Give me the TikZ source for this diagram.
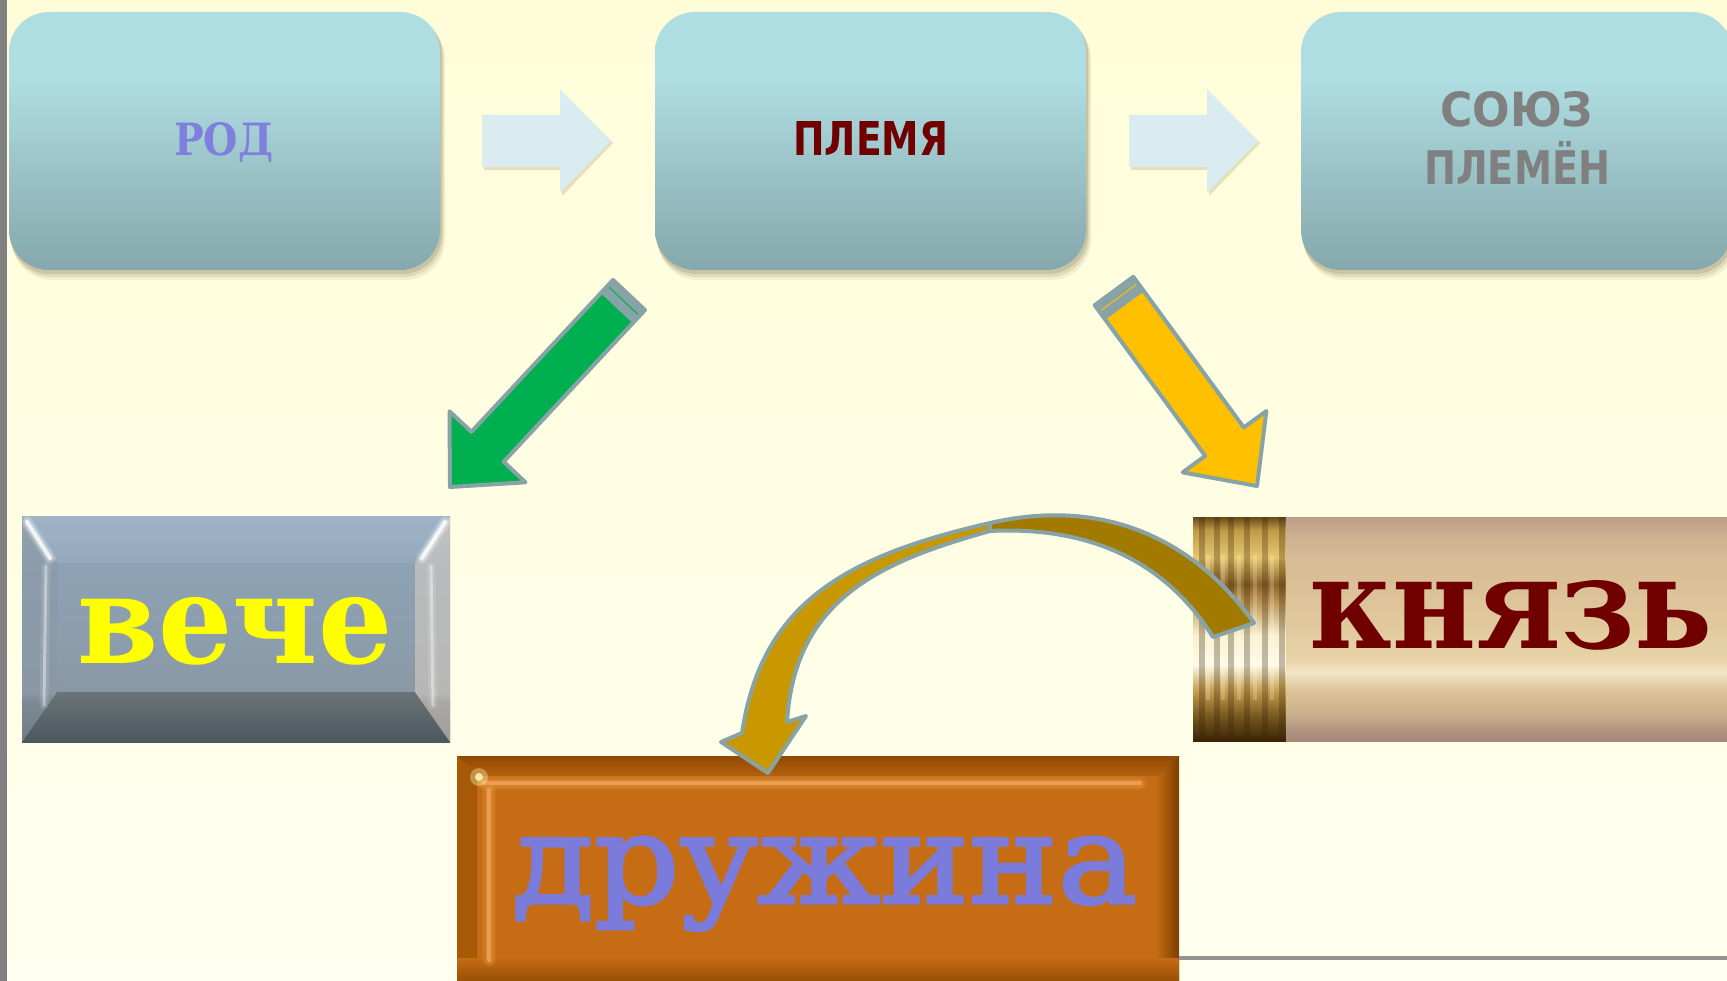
\documentclass[tikz,border=0pt]{standalone}
\usepackage{fontspec}
\setmainfont{DejaVu Serif}
\newfontfamily\sansf{DejaVu Sans}
\newfontfamily\semiserif{DejaVu Serif}[FakeBold=2.5]
\usepackage{graphicx}
\definecolor{bgtop}{HTML}{FFFDD8}
\definecolor{bgbot}{HTML}{FFFFEF}
\definecolor{boxtop}{HTML}{AEDDE2}
\definecolor{boxmid}{HTML}{9CC4C8}
\definecolor{boxbot}{HTML}{85A8AC}
\definecolor{outl}{HTML}{88A3A6}
\definecolor{lightarrow}{HTML}{DAECEF}
\definecolor{shadowc}{HTML}{7A6E48}
\definecolor{rodc}{HTML}{7F7FDF}
\definecolor{darkred}{HTML}{700000}
\definecolor{grayt}{HTML}{808080}
\definecolor{greenf}{HTML}{00B050}
\definecolor{yellowf}{HTML}{FFC000}
\definecolor{curvedark}{HTML}{A27A00}
\definecolor{curvelight}{HTML}{C99700}
\definecolor{vechet}{HTML}{FFFF00}
\definecolor{druzht}{HTML}{7B7BDB}
% cylinder colours
\definecolor{cyA}{HTML}{A48878}\definecolor{cyB}{HTML}{B09580}\definecolor{cyC}{HTML}{C9AE8C}
\definecolor{cyD}{HTML}{DCC498}\definecolor{cyE}{HTML}{F2E6C8}\definecolor{cyF}{HTML}{E8D4A8}
\definecolor{cyG}{HTML}{E0C79C}\definecolor{cyH}{HTML}{D8BC94}\definecolor{cyI}{HTML}{CDB090}
\definecolor{cyJ}{HTML}{BC9C86}
% gold strip
\definecolor{goA}{HTML}{3A2408}\definecolor{goB}{HTML}{7A5A20}\definecolor{goC}{HTML}{C8A050}
\definecolor{goD}{HTML}{FFFAE8}\definecolor{goE}{HTML}{F8F0D0}\definecolor{goF}{HTML}{B89050}
\definecolor{goG}{HTML}{8A6428}\definecolor{goH}{HTML}{E6C870}\definecolor{goI}{HTML}{C09A48}
\definecolor{goJ}{HTML}{6A4A18}
% veche
\definecolor{veA}{HTML}{4C585E}\definecolor{veB}{HTML}{6A7478}\definecolor{veC}{HTML}{8A98A4}
\definecolor{veD}{HTML}{8C9DAC}\definecolor{veE}{HTML}{8EA2B4}\definecolor{veF}{HTML}{A0B4C8}
% druzhina
\definecolor{drBase}{HTML}{C56C14}\definecolor{drTop}{HTML}{904A02}\definecolor{drTop2}{HTML}{B4600E}
\definecolor{drHi}{HTML}{F2A658}\definecolor{drEdge}{HTML}{A65A08}\definecolor{drDark}{HTML}{7A3E00}

\pgfdeclareverticalshading{bgshade}{100bp}{color(0bp)=(bgbot); color(25bp)=(bgbot); color(75bp)=(bgtop); color(100bp)=(bgtop)}
\pgfdeclareverticalshading{boxshade}{100bp}{color(0bp)=(boxbot); color(25bp)=(boxbot); color(45bp)=(boxmid); color(62bp)=(boxtop); color(100bp)=(boxtop)}
\pgfdeclareverticalshading{cylshade}{100bp}{color(0bp)=(cyA); color(25bp)=(cyA); color(27.5bp)=(cyB); color(30.8bp)=(cyC); color(36.4bp)=(cyD); color(40.2bp)=(cyE); color(43.1bp)=(cyF); color(52bp)=(cyG); color(65.4bp)=(cyH); color(71bp)=(cyI); color(75bp)=(cyJ); color(100bp)=(cyJ)}
\pgfdeclareverticalshading{goldshade}{100bp}{color(0bp)=(goA); color(25bp)=(goA); color(30.8bp)=(goB); color(36.4bp)=(goC); color(42bp)=(goD); color(48.7bp)=(goE); color(56.5bp)=(goF); color(60bp)=(goG); color(66bp)=(goH); color(72.1bp)=(goI); color(75bp)=(goJ); color(100bp)=(goJ)}
\pgfdeclareverticalshading{veshade}{100bp}{color(0bp)=(veA); color(25bp)=(veA); color(34.1bp)=(veB); color(35.8bp)=(veC); color(47.6bp)=(veD); color(64.6bp)=(veE); color(75bp)=(veF); color(100bp)=(veF)}
\pgfdeclareverticalshading{vebottom}{100bp}{color(0bp)=(veA); color(25bp)=(veA); color(75bp)=(veB); color(100bp)=(veB)}
\pgfdeclareverticalshading{drtopshade}{100bp}{color(0bp)=(drTop2); color(25bp)=(drTop2); color(75bp)=(drTop); color(100bp)=(drTop)}
\pgfdeclareverticalshading{drbotshade}{100bp}{color(0bp)=(drTop); color(25bp)=(drTop); color(75bp)=(drBase); color(100bp)=(drBase)}
\pgfdeclarehorizontalshading{drrightshade}{100bp}{color(0bp)=(drBase); color(25bp)=(drBase); color(75bp)=(drDark); color(100bp)=(drDark)}

\tikzset{
  rbox/.style={shade, shading=boxshade, rounded corners=40pt, minimum width=431pt, minimum height=258pt, inner sep=0pt},
  boxshadow/.style={fill=shadowc, rounded corners=40pt},
  blockarrow/.style={fill=lightarrow},
  arrshadow/.style={fill=shadowc, opacity=0.2},
  fatarrow/.style={draw=outl, line width=4pt, line join=round},
  label/.style={inner sep=0pt, anchor=base west},
  glow/.style={line cap=round},
}

\begin{document}
\begin{tikzpicture}[x=1pt,y=-1pt]
\useasboundingbox (0,0) rectangle (1727,981);
\clip (0,0) rectangle (1727,981);
\shade[shading=bgshade] (0,0) rectangle (1727,981);
\fill[grayt] (0,0) rectangle (7,981);

% shadows of the rounded boxes
\foreach \cx in {224.5,870.5,1516.5}{
  \fill[boxshadow, opacity=0.1] (\cx-212.5,19) rectangle (\cx+220.5,280);
  \fill[boxshadow, opacity=0.15] (\cx-213.5,17) rectangle (\cx+219,277);
  \fill[boxshadow, opacity=0.22] (\cx-214.5,14) rectangle (\cx+217.5,274);
}
\node[rbox] (rod) at (224.5,141) {};
\node[rbox] (plemya) at (870.5,141) {};
\node[rbox] (soyuz) at (1516.5,141) {};

\node[label, text=rodc] (rodt) at (174,156) {\resizebox{99pt}{33pt}{\bfseries РОД}};
\node[label, text=darkred] (plemyat) at (793,156) {\resizebox{155pt}{34pt}{\sansf\bfseries ПЛЕМЯ}};
\node[label, text=grayt] (soyuzt1) at (1440,127) {\resizebox{153pt}{35pt}{\sansf\bfseries СОЮЗ}};
\node[label, text=grayt] (soyuzt2) at (1424,185) {\resizebox{186pt}{43pt}{\sansf\bfseries ПЛЕМЁН}};

% block arrows between the top boxes
\foreach \dx in {0,647}{
  \begin{scope}[xshift=\dx pt]
  \fill[arrshadow] (484,118) -- (562,118) -- (562,92) -- (613,143) -- (562,196) -- (562,170) -- (484,170) -- cycle;
  \fill[blockarrow] (482,115) -- (560,115) -- (560,89) -- (611,141) -- (560,193) -- (560,167) -- (482,167) -- cycle;
  \end{scope}
}

% veche button
\shade[shading=veshade] (22,516) rectangle (450,742);
\shade[shading=vebottom] (22,742) -- (450,742) -- (415,692) -- (57,692) -- cycle;
\fill[veC, opacity=0.6] (22,516) -- (57,563) -- (57,692) -- (22,742) -- cycle;
\fill[gray!60!brown!40!white, opacity=0.6] (450,516) -- (415,563) -- (415,692) -- (450,742) -- cycle;
\fill[veF, opacity=0.45] (22,516) -- (450,516) -- (415,563) -- (57,563) -- cycle;
\foreach \w/\o in {12/0.15, 8/0.3, 4/0.8}{
  \draw[white, line width=\w pt, opacity=\o, glow] (27,522) -- (50,558);
  \draw[white, line width=\w pt, opacity=\o, glow] (445,522) -- (422,558);
}
\foreach \w/\o in {9/0.12, 3/0.4}{
  \draw[white, line width=\w pt, opacity=\o, glow] (46,566) -- (44,705);
  \draw[white, line width=\w pt, opacity=\o, glow] (431,566) -- (433,705);
}
\node[label, text=vechet] (veche) at (77,663) {\resizebox{315pt}{66pt}{\bfseries вече}};

% knyaz banner
\shade[shading=goldshade] (1193,517) rectangle (1286,741);
\foreach \sx in {1199,1214,1228,1244,1262,1279}{
  \fill[goA, opacity=0.3] (\sx,517) rectangle (\sx+6,741);
}
\foreach \sx in {1206,1221,1237,1253,1270}{
  \fill[white, opacity=0.22] (\sx,555) rectangle (\sx+4,700);
}
\shade[shading=cylshade] (1286,517) rectangle (1727,741);
\node[label, text=darkred] (knyaz) at (1309,648) {\resizebox{403pt}{68pt}{\bfseries князь}};

% druzhina button
\fill[drBase] (457,756) rectangle (1179,985);
\fill[drEdge] (457,756) -- (477,776) -- (477,985) -- (457,985) -- cycle;
\shade[shading=drrightshade] (1156,756) rectangle (1179,985);
\shade[shading=drtopshade] (457,756) -- (1179,756) -- (1158,776) -- (477,776) -- cycle;
\shade[shading=drbotshade] (457,958) rectangle (1179,985);
\foreach \w/\o in {14/0.15, 9/0.25, 4/0.8}{
  \draw[drHi, line width=\w pt, opacity=\o, glow] (484,783) -- (1140,783);
  \draw[drHi, line width=\w pt, opacity=\o, glow] (489,790) -- (489,960);
}
\fill[yellow!25!white, opacity=0.35] (479,777) circle (9pt);
\fill[yellow!25!white, opacity=0.8] (479,777) circle (4pt);
\node[label, text=druzht] (druzh) at (512,903) {\resizebox{624pt}{66pt}{\semiserif дружина}};

% bottom right rule
\draw[gray!85, line width=4pt] (1179,958) -- (1727,958);

% green arrow
\fill[greenf] (613,280) -- (645,310) -- (503.6,461.8) -- (525.5,482.3) -- (450,487) -- (449.5,411.3) -- (471.4,431.8) -- cycle;
\fill[outl] (613,280) -- (645,310) -- (632.7,323.2) -- (600.7,293.2) -- cycle;
\draw[greenf, line width=1pt] (607.5,285.8) -- (639.5,315.8);
\draw[fatarrow] (613,280) -- (645,310) -- (503.6,461.8) -- (525.5,482.3) -- (450,487) -- (449.5,411.3) -- (471.4,431.8) -- cycle;

% yellow arrow
\fill[yellowf] (1133.3,276.8) -- (1243.8,427.5) -- (1266.4,411.0) -- (1257,486) -- (1182.6,472.4) -- (1205.2,455.9) -- (1094.7,305.2) -- cycle;
\fill[outl] (1133.3,276.8) -- (1143.9,291.3) -- (1105.3,319.7) -- (1094.7,305.2) -- cycle;
\draw[yellowf, line width=1pt] (1138,283.2) -- (1099.4,311.6);
\draw[fatarrow] (1133.3,276.8) -- (1243.8,427.5) -- (1266.4,411.0) -- (1257,486) -- (1182.6,472.4) -- (1205.2,455.9) -- (1094.7,305.2) -- cycle;

% curved arrow from knyaz to druzhina
\coordinate (ctopout) at (990,523);
\coordinate (ctopin) at (990,531);
\path[fatarrow, fill=curvelight]
  (787,722) -- (806,716) -- (768,773) -- (721,742) -- (742,733)
  .. controls (761.5,604) and (843.75,556.6) .. (ctopout) -- (ctopin)
  .. controls (884,560.7) and (794.5,597) .. (787,722) -- cycle;
\path[fatarrow, fill=curvedark]
  (ctopout) .. controls (1107,496.1) and (1195.7,541.8) .. (1254,623)
  -- (1213,637) .. controls (1170.4,569.3) and (1100,525.5) .. (ctopin) -- cycle;
\end{tikzpicture}
\end{document}
